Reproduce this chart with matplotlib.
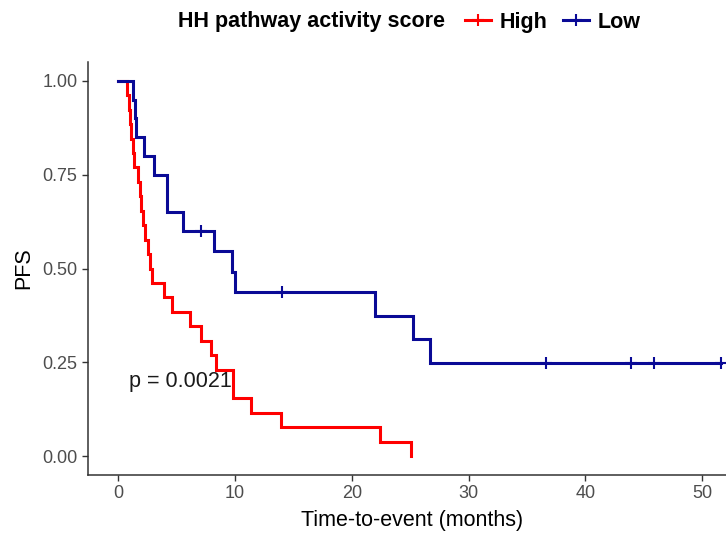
import numpy as np
import matplotlib.pyplot as plt
from matplotlib.lines import Line2D

plt.rcParams['font.family'] = ['Liberation Sans', 'DejaVu Sans']

# progression-free survival times (months), 1 = event, 0 = censored
high_time = [0.74, 0.94, 1.05, 1.14, 1.25, 1.37, 1.71, 1.85, 1.94, 2.17, 2.31, 2.56, 2.71,
             2.94, 3.93, 4.59, 6.15, 7.07, 7.92, 8.35, 9.83, 9.83, 11.34, 13.9, 22.4, 25.08]
high_event = [1] * 26

low_time = [1.23, 1.43, 1.55, 2.2, 3.05, 4.2, 4.2, 5.59, 7.07, 8.2, 9.78, 9.97, 14.0,
            21.97, 25.2, 26.7, 36.6, 43.9, 45.9, 51.6]
low_event = [1, 1, 1, 1, 1, 1, 1, 1, 0, 1, 1, 1, 0, 1, 1, 1, 0, 0, 0, 0]

groups = ["High", "Low"]
colors = ["#FF0000", "#0A0A96"]
pval_text = "p = 0.0021"
x_ticks = [0, 10, 20, 30, 40, 50]
y_ticks = [0.00, 0.25, 0.50, 0.75, 1.00]


def kaplan_meier(times, events):
    times = np.asarray(times, float)
    events = np.asarray(events, int)
    xs, ys = [0.0], [1.0]
    cx, cy = [], []
    s = 1.0
    for t in np.unique(times):
        at_risk = np.sum(times >= t)
        d = np.sum((times == t) & (events == 1))
        c = np.sum((times == t) & (events == 0))
        s = s * (1 - d / at_risk)
        xs.append(t)
        ys.append(s)
        if c > 0:
            cx.append(t)
            cy.append(s)
    return xs, ys, cx, cy


fig = plt.figure(figsize=(7.26, 5.33), dpi=100)
ax = fig.add_axes([88 / 726, 58 / 533, 663.4 / 726, 413 / 533])

for (tm, ev), col in zip([(high_time, high_event), (low_time, low_event)], colors):
    xs, ys, cx, cy = kaplan_meier(tm, ev)
    ax.plot(xs, ys, drawstyle='steps-post', color=col, lw=2.2, solid_joinstyle='miter')
    ax.plot(cx, cy, ls='none', marker='+', color=col, ms=8, mew=1.5)

ax.text(0.9, 0.2, pval_text, fontsize=15.5, color='#1A1A1A', ha='left', va='center')

ax.set_xlim(-2.58, 54.2)
ax.set_ylim(-0.05, 1.05)
ax.set_xticks(x_ticks)
ax.set_yticks(y_ticks)
ax.set_yticklabels([f"{v:.2f}" for v in y_ticks])
ax.tick_params(labelsize=13, labelcolor='#4D4D4D', color='#333333', length=4, width=1)
for side in ['top', 'right']:
    ax.spines[side].set_visible(False)
for side in ['left', 'bottom']:
    ax.spines[side].set_color('#333333')
    ax.spines[side].set_linewidth(1.1)
ax.set_xlabel("Time-to-event (months)", fontsize=15.5, va='center')
ax.xaxis.set_label_coords(0.488, -0.109)
ax.set_ylabel("PFS", fontsize=15.5, labelpad=6)

# legend along the top
fig.text(178 / 726, 1 - 21 / 533, "HH pathway activity score", fontsize=15.5,
         fontweight='bold', ha='left', va='center')
handles = [Line2D([], [], color=c, lw=2.2, marker='+', ms=8, mew=1.5) for c in colors]
leg = fig.legend(handles, groups, ncol=2, frameon=False, loc='center left',
                 bbox_to_anchor=(446 / 726, 1 - 22 / 533), handlelength=1.2,
                 handletextpad=0.4, columnspacing=0.7,
                 prop={'size': 15.5, 'weight': 'bold'})

fig.savefig("out.png", dpi=100)
